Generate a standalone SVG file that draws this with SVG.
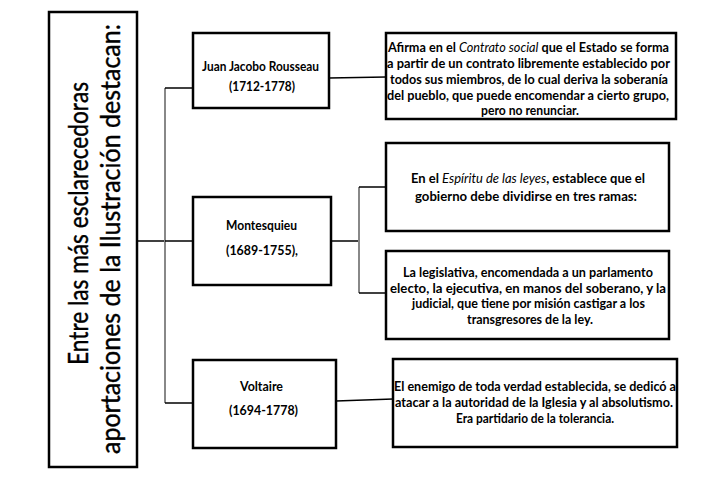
<svg xmlns="http://www.w3.org/2000/svg" width="727" height="477" viewBox="0 0 727 477">
<style>
.box{fill:#fff;stroke:#000;stroke-width:2.5}
.t{font-family:Lato,"Open Sans","Liberation Sans",sans-serif;font-size:12.5px;font-weight:bold;fill:#000}
.title{font-family:Lato,"Open Sans","Liberation Sans",sans-serif;font-size:27px;fill:#000;stroke:#000;stroke-width:0.4}
.i{font-style:italic;font-weight:normal}
.c{stroke:#000;stroke-width:1.5;fill:none}
.g{stroke:#888;stroke-width:2;fill:none}
</style>
<rect width="727" height="477" fill="#fff"/>
<g id="connectors">
<line class="c" x1="137" y1="241" x2="165" y2="241"/>
<line class="g" x1="165" y1="88" x2="165" y2="403"/>
<line class="c" x1="165" y1="88" x2="193" y2="88"/>
<line class="c" x1="165" y1="241" x2="193" y2="241"/>
<line class="c" x1="165" y1="403" x2="193" y2="403"/>
<line class="c" x1="329" y1="78" x2="386" y2="77"/>
<line class="c" x1="331" y1="241" x2="359" y2="241"/>
<line class="g" x1="359" y1="187" x2="359" y2="293"/>
<line class="c" x1="359" y1="187" x2="386" y2="187"/>
<line class="c" x1="359" y1="293" x2="386" y2="293"/>
<line class="c" x1="336" y1="401" x2="393" y2="399"/>
</g>
<g id="main">
<rect class="box" x="49" y="12" width="88" height="455"/>
<g transform="rotate(-90)">
<text class="title" x="-365" y="88" textLength="283" lengthAdjust="spacingAndGlyphs">Entre las más esclarecedoras</text>
<text class="title" x="-454" y="120" textLength="430" lengthAdjust="spacingAndGlyphs">aportaciones de la Ilustración destacan:</text>
</g>
</g>
<g id="rousseau">
<rect class="box" x="193" y="33" width="136" height="75"/>
<text class="t" x="202" y="71" textLength="117" lengthAdjust="spacingAndGlyphs">Juan Jacobo Rousseau</text>
<text class="t" x="229" y="91" textLength="66" lengthAdjust="spacingAndGlyphs">(1712-1778)</text>
</g>
<g id="montesquieu">
<rect class="box" x="193" y="197" width="138" height="88"/>
<text class="t" x="226" y="230" textLength="71" lengthAdjust="spacingAndGlyphs">Montesquieu</text>
<text class="t" x="226" y="255" textLength="72" lengthAdjust="spacingAndGlyphs">(1689-1755),</text>
</g>
<g id="voltaire">
<rect class="box" x="193" y="360" width="143" height="88"/>
<text class="t" x="240" y="391" textLength="43" lengthAdjust="spacingAndGlyphs">Voltaire</text>
<text class="t" x="229" y="415" textLength="69" lengthAdjust="spacingAndGlyphs">(1694-1778)</text>
</g>
<g id="desc-rousseau">
<rect class="box" x="386" y="33" width="290" height="86"/>
<text class="t" x="388" y="52" textLength="281" lengthAdjust="spacingAndGlyphs">Afirma en el <tspan class="i">Contrato social</tspan> que el Estado se forma</text>
<text class="t" x="387" y="68" textLength="283" lengthAdjust="spacingAndGlyphs">a partir de un contrato libremente establecido por</text>
<text class="t" x="390" y="84" textLength="278" lengthAdjust="spacingAndGlyphs">todos sus miembros, de lo cual  deriva la soberanía</text>
<text class="t" x="387" y="100" textLength="282" lengthAdjust="spacingAndGlyphs">del pueblo, que puede encomendar a cierto grupo,</text>
<text class="t" x="481" y="115" textLength="98" lengthAdjust="spacingAndGlyphs">pero no renunciar.</text>
</g>
<g id="desc-espiritu">
<rect class="box" x="386" y="143" width="283" height="88"/>
<text class="t" x="411" y="183" textLength="234" lengthAdjust="spacingAndGlyphs">En el <tspan class="i">Espíritu de las leyes</tspan>,  establece que el</text>
<text class="t" x="415" y="201" textLength="222" lengthAdjust="spacingAndGlyphs">gobierno debe dividirse  en tres ramas:</text>
</g>
<g id="desc-ramas">
<rect class="box" x="386" y="251" width="283" height="88"/>
<text class="t" x="403" y="277" textLength="250" lengthAdjust="spacingAndGlyphs">La legislativa,  encomendada a un parlamento</text>
<text class="t" x="390" y="293" textLength="276" lengthAdjust="spacingAndGlyphs">electo, la ejecutiva,  en manos del soberano,  y la</text>
<text class="t" x="412" y="308" textLength="233" lengthAdjust="spacingAndGlyphs">judicial,  que tiene por misión castigar  a los</text>
<text class="t" x="467" y="324" textLength="126" lengthAdjust="spacingAndGlyphs">transgresores de la ley.</text>
</g>
<g id="desc-voltaire">
<rect class="box" x="393" y="359" width="284" height="88"/>
<text class="t" x="394" y="391" textLength="282" lengthAdjust="spacingAndGlyphs">El enemigo de toda verdad establecida, se dedicó a</text>
<text class="t" x="395" y="407" textLength="278" lengthAdjust="spacingAndGlyphs">atacar  a la autoridad  de la Iglesia  y al absolutismo.</text>
<text class="t" x="456" y="423" textLength="158" lengthAdjust="spacingAndGlyphs">Era partidario de la tolerancia.</text>
</g>
</svg>
